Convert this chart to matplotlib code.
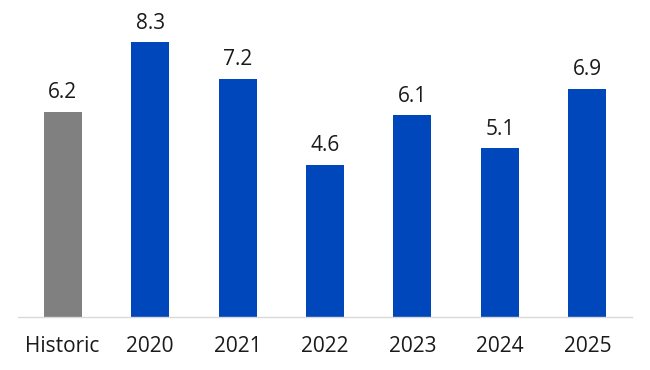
import matplotlib
matplotlib.use("Agg")
import matplotlib.pyplot as plt

categories = ["Historic", "2020", "2021", "2022", "2023", "2024", "2025"]
values = [6.2, 8.3, 7.2, 4.6, 6.1, 5.1, 6.9]
colors = ["#808080"] + ["#0047BB"] * 6

plt.rcParams["font.family"] = ["Open Sans", "DejaVu Sans"]

W, H = 650, 370
fig = plt.figure(figsize=(W / 100, H / 100), dpi=100)
left, right, base, top = 18, 632, 317, 19
ax = fig.add_axes([left / W, (H - base) / H, (right - left) / W, (base - top) / H])

x = list(range(len(categories)))
ax.bar(x, values, width=0.435, color=colors)
for xi, v in zip(x, values):
    ax.annotate(f"{v:.1f}", (xi, v), xytext=(0, 6), textcoords="offset points",
                ha="center", va="bottom", fontsize=15, color="#1a1a1a", annotation_clip=False)

ax.set_xlim(-0.51, 6.51)
ax.set_ylim(0, 9.0)
ax.set_xticks(x)
ax.set_xticklabels(categories, fontsize=15, color="#1a1a1a")
ax.tick_params(axis="x", length=0, pad=14)
ax.set_yticks([])
for s in ["top", "right", "left"]:
    ax.spines[s].set_visible(False)
ax.spines["bottom"].set_color("#d9d9d9")
ax.spines["bottom"].set_linewidth(1.0)

fig.savefig("out.png", dpi=100)
